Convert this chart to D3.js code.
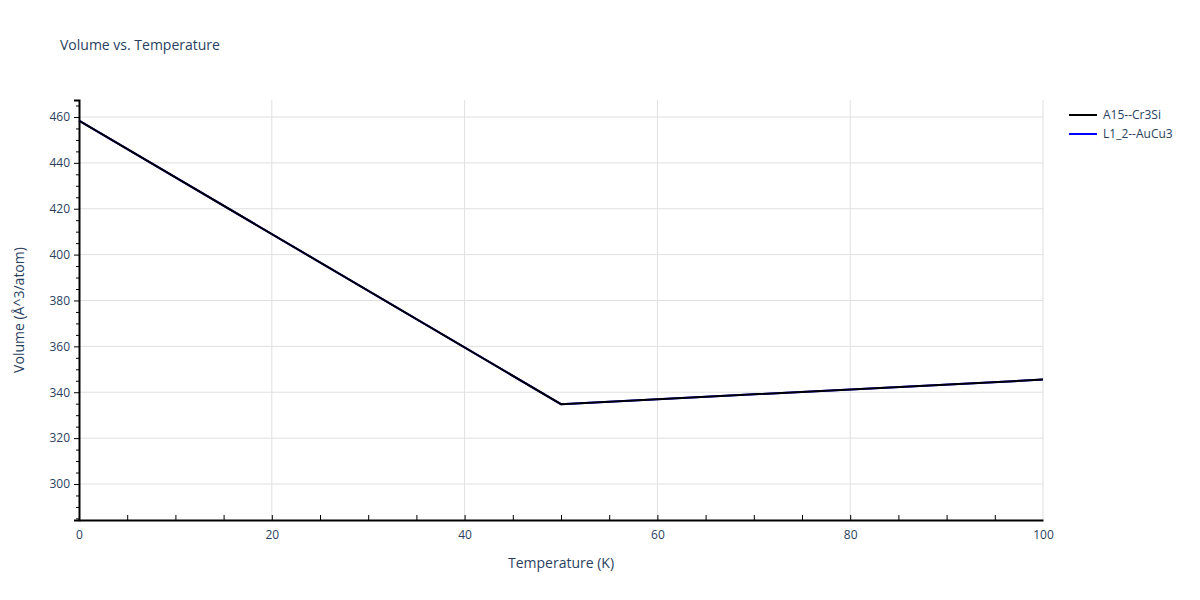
<!DOCTYPE html>
<html>
<head>
<meta charset="utf-8">
<script src="https://cdn.jsdelivr.net/npm/d3@7"></script>
<style>
  body { margin: 0; background: #fff; }
  text { font-family: "Open Sans", Verdana, sans-serif; fill: #2a3f5f; }
</style>
</head>
<body>
<svg id="chart" width="1200" height="600"></svg>
<script>
// series data
var seriesNames = ["A15--Cr3Si", "L1_2--AuCu3"];
var seriesColors = ["#000000", "#0000ff"];
var temps = [0, 50, 100];
var volA15 = [458.4, 334.8, 345.5];
var volL12 = [458.4, 334.8, 345.5];
var xTicks = [0, 20, 40, 60, 80, 100];
var yTicks = [300, 320, 340, 360, 380, 400, 420, 440, 460];

var margin = { top: 100, left: 79, right: 1043, bottom: 520 };

var svg = d3.select("#chart");

var x = d3.scaleLinear().domain([0, 100]).range([margin.left, margin.right]);
var y = d3.scaleLinear().domain([284.3, 467.4]).range([margin.bottom, margin.top]);

// grid
svg.append("g").selectAll("line").data(xTicks.slice(1, -1).concat([100])).enter().append("line")
    .attr("x1", d => x(d)).attr("x2", d => x(d))
    .attr("y1", margin.top).attr("y2", margin.bottom)
    .attr("stroke", "#e0e0e0");
svg.append("g").selectAll("line").data(yTicks).enter().append("line")
    .attr("x1", margin.left).attr("x2", margin.right)
    .attr("y1", d => y(d)).attr("y2", d => y(d))
    .attr("stroke", "#e0e0e0");

// x axis
var xAxis = svg.append("g")
    .attr("transform", "translate(0," + margin.bottom + ")")
    .call(d3.axisBottom(x).tickValues(xTicks).tickSize(0).tickPadding(10));
xAxis.select(".domain").attr("stroke", "#000").attr("stroke-width", 2);
xAxis.selectAll("text").style("font-size", "12px");
svg.append("g").attr("transform", "translate(0," + margin.bottom + ")")
    .call(d3.axisTop(x).tickValues(d3.range(5, 100, 5)).tickSize(5).tickFormat(""))
    .call(g => g.select(".domain").remove())
    .selectAll("line").attr("stroke", "#000");

// y axis
var yAxis = svg.append("g")
    .attr("transform", "translate(" + margin.left + ",0)")
    .call(d3.axisLeft(y).tickValues(yTicks).tickSize(5).tickPadding(4));
yAxis.select(".domain").attr("stroke", "#000").attr("stroke-width", 2);
yAxis.selectAll("line").attr("stroke", "#000");
yAxis.selectAll("text").style("font-size", "12px");
svg.append("g").attr("transform", "translate(" + margin.left + ",0)")
    .call(d3.axisLeft(y).tickValues(d3.range(285, 467, 5).filter(v => v % 20 !== 0)).tickSize(3).tickFormat(""))
    .call(g => g.select(".domain").remove())
    .selectAll("line").attr("stroke", "#000");

// lines
var line = d3.line().x((d, i) => x(temps[i])).y(d => y(d));
[volL12, volA15].forEach(function (vals, k) {
    svg.append("path").datum(vals)
        .attr("d", line).attr("fill", "none")
        .attr("stroke", seriesColors[1 - k]).attr("stroke-width", 2);
});

// titles
svg.append("text").attr("x", 60).attr("y", 50).style("font-size", "14px").text("Volume vs. Temperature");
svg.append("text").attr("x", (margin.left + margin.right) / 2).attr("y", 568)
    .attr("text-anchor", "middle").style("font-size", "14px").text("Temperature (K)");
svg.append("text").attr("transform", "translate(24," + (margin.top + margin.bottom) / 2 + ") rotate(-90)")
    .attr("text-anchor", "middle").style("font-size", "14px").text("Volume (Å^3/atom)");

// legend
var legend = svg.append("g").attr("transform", "translate(1069,115)");
seriesNames.forEach(function (name, i) {
    var g = legend.append("g").attr("transform", "translate(0," + i * 19 + ")");
    g.append("line").attr("x1", 0).attr("x2", 28).attr("stroke", seriesColors[i]).attr("stroke-width", 2);
    g.append("text").attr("x", 34).attr("y", 4).style("font-size", "12px").text(name);
});
</script>
</body>
</html>
